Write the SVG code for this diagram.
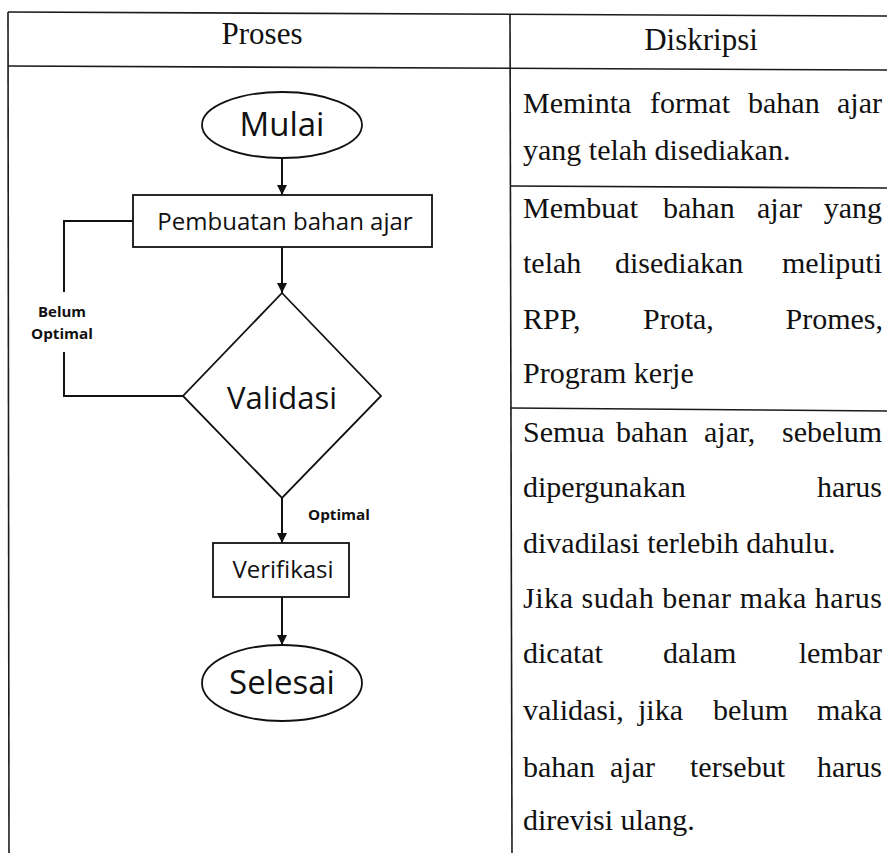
<svg xmlns="http://www.w3.org/2000/svg" width="887" height="853" viewBox="0 0 887 853">
<defs>
<style>
.tb{stroke:#1a1a1a;stroke-width:1.6;fill:none}
.sh{stroke:#111;stroke-width:1.8;fill:#fff}
.cn{stroke:#111;stroke-width:2;fill:none}
.hd{font-family:"Liberation Serif","Times New Roman",serif;font-size:31px;fill:#111}
.bd{font-family:"Liberation Serif","Times New Roman",serif;font-size:30px;fill:#111}
.fl{font-family:"Open Sans","Noto Sans",sans-serif;fill:#111;text-anchor:middle}
.lb{font-family:"Open Sans","Noto Sans",sans-serif;font-weight:bold;font-size:14px;fill:#111;text-anchor:middle}
</style>
<marker id="ah" viewBox="0 0 10 10" refX="10" refY="5" markerWidth="5" markerHeight="7" markerUnits="strokeWidth" orient="auto">
<path d="M0,0 L10,5 L0,10 z" fill="#111"/>
</marker>
</defs>
<rect width="887" height="853" fill="#fff"/>
<g id="table">
<line class="tb" x1="8" y1="12" x2="887" y2="16"/>
<line class="tb" x1="8" y1="66" x2="887" y2="70"/>
<line class="tb" x1="8" y1="12" x2="9" y2="853"/>
<line class="tb" x1="510" y1="14" x2="512" y2="853"/>
<line class="tb" x1="511" y1="186" x2="887" y2="188"/>
<line class="tb" x1="511" y1="408" x2="887" y2="411"/>
<text class="hd" x="262" y="44" text-anchor="middle">Proses</text>
<text class="hd" x="701" y="50" text-anchor="middle">Diskripsi</text>
</g>
<g id="description">
<text class="bd" y="113"><tspan x="523">Meminta</tspan><tspan x="650">format</tspan><tspan x="748">bahan</tspan><tspan x="882" text-anchor="end">ajar</tspan></text>
<text class="bd" x="523" y="160">yang telah disediakan.</text>
<text class="bd" y="218"><tspan x="523">Membuat</tspan><tspan x="663">bahan</tspan><tspan x="757">ajar</tspan><tspan x="882" text-anchor="end">yang</tspan></text>
<text class="bd" y="273"><tspan x="523">telah</tspan><tspan x="615">disediakan</tspan><tspan x="882" text-anchor="end">meliputi</tspan></text>
<text class="bd" y="329"><tspan x="523">RPP,</tspan><tspan x="643">Prota,</tspan><tspan x="883" text-anchor="end">Promes,</tspan></text>
<text class="bd" x="523" y="383">Program kerje</text>
<text class="bd" y="442"><tspan x="523">Semua</tspan><tspan x="616">bahan</tspan><tspan x="704">ajar,</tspan><tspan x="882" text-anchor="end">sebelum</tspan></text>
<text class="bd" y="497"><tspan x="523">dipergunakan</tspan><tspan x="882" text-anchor="end">harus</tspan></text>
<text class="bd" x="523" y="553">divadilasi terlebih dahulu.</text>
<text class="bd" x="523" y="608" textLength="359" lengthAdjust="spacing">Jika sudah benar maka harus</text>
<text class="bd" y="663"><tspan x="523">dicatat</tspan><tspan x="663">dalam</tspan><tspan x="882" text-anchor="end">lembar</tspan></text>
<text class="bd" y="720"><tspan x="523">validasi,</tspan><tspan x="638">jika</tspan><tspan x="713">belum</tspan><tspan x="882" text-anchor="end">maka</tspan></text>
<text class="bd" y="777"><tspan x="523">bahan</tspan><tspan x="610">ajar</tspan><tspan x="690">tersebut</tspan><tspan x="882" text-anchor="end">harus</tspan></text>
<text class="bd" x="523" y="830">direvisi ulang.</text>
</g>
<g id="connectors">
<line class="cn" x1="282" y1="158" x2="282" y2="195" marker-end="url(#ah)"/>
<line class="cn" x1="282" y1="247" x2="282" y2="293" marker-end="url(#ah)"/>
<line class="cn" x1="282" y1="498" x2="282" y2="543" marker-end="url(#ah)"/>
<line class="cn" x1="282" y1="597" x2="282" y2="645" marker-end="url(#ah)"/>
<path class="cn" d="M183,396 H64 V352"/>
<path class="cn" d="M64,292 V221 H133"/>
<text class="lb" x="62" y="317" textLength="48" lengthAdjust="spacingAndGlyphs">Belum</text>
<text class="lb" x="62" y="339" textLength="62" lengthAdjust="spacingAndGlyphs">Optimal</text>
<text class="lb" x="339" y="520" textLength="62" lengthAdjust="spacingAndGlyphs">Optimal</text>
</g>
<g id="mulai">
<ellipse class="sh" cx="282" cy="125" rx="80" ry="33"/>
<text class="fl" x="282" y="136" font-size="33">Mulai</text>
</g>
<g id="pembuatan">
<rect class="sh" x="133" y="195" width="299" height="52"/>
<text class="fl" x="285" y="230" font-size="24">Pembuatan bahan ajar</text>
</g>
<g id="validasi">
<polygon class="sh" points="282,293 381,396 282,498 183,396"/>
<text class="fl" x="282" y="409" font-size="31">Validasi</text>
</g>
<g id="verifikasi">
<rect class="sh" x="213" y="543" width="136" height="54"/>
<text class="fl" x="283" y="578" font-size="24">Verifikasi</text>
</g>
<g id="selesai">
<ellipse class="sh" cx="282" cy="683" rx="80" ry="38"/>
<text class="fl" x="282" y="694" font-size="33">Selesai</text>
</g>
</svg>
